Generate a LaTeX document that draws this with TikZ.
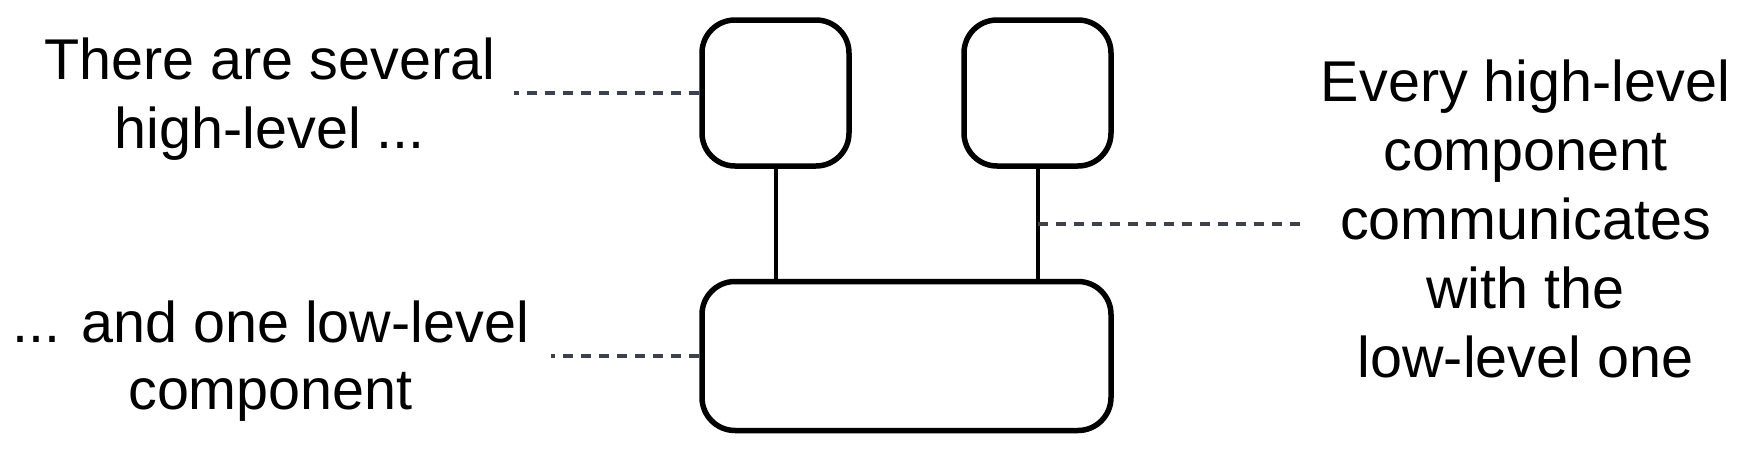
\documentclass[tikz,border=0pt]{standalone}
\usepackage{fontspec}
\setmainfont{Liberation Sans}
\definecolor{dashgray}{HTML}{3C424D}
\begin{document}
\begin{tikzpicture}[x=1pt,y=-1pt,
  comp/.style={draw=black,line width=5.5pt,rounded corners=33pt,inner sep=0pt,fill=white},
  link/.style={draw=black,line width=4pt},
  note/.style={draw=dashgray,line width=4pt,dash pattern=on 10pt off 8pt},
  label/.style={align=center,inner sep=0pt,anchor=base,font=\fontsize{57.5}{69}\selectfont}]
\useasboundingbox (0,0) rectangle (1749,450);
% components
\node[comp,minimum width=147pt,minimum height=146pt] (h1) at (775.5,93) {};
\node[comp,minimum width=147pt,minimum height=146pt] (h2) at (1037.5,93) {};
\node[comp,minimum width=409pt,minimum height=149pt] (low) at (906.5,356) {};
% connectors
\draw[link] (h1.south) -- (h1.south |- low.north);
\draw[link] (h2.south) -- coordinate[midway] (m2) (h2.south |- low.north);
% annotation leaders
\coordinate (c1) at (514,93);
\coordinate (c2) at (551,356);
\coordinate (c3) at (1302,0);
\draw[note] (h1.west) -- (c1);
\draw[note] (low.west) -- (c2);
\draw[note] (m2) -- (m2 -| c3);
% texts (anchor = baseline of last line)
\node[label] (t1) at (270,148.3) {There are several\\high-level ...};
\node[label,font=\fontsize{57.5}{67}\selectfont] (t2) at (270.5,409) {... and one low-level\\component};
\node[label] (t3) at (1525.5,377) {Every high-level\\component\\communicates\\with the\\low-level one};
\end{tikzpicture}
\end{document}
